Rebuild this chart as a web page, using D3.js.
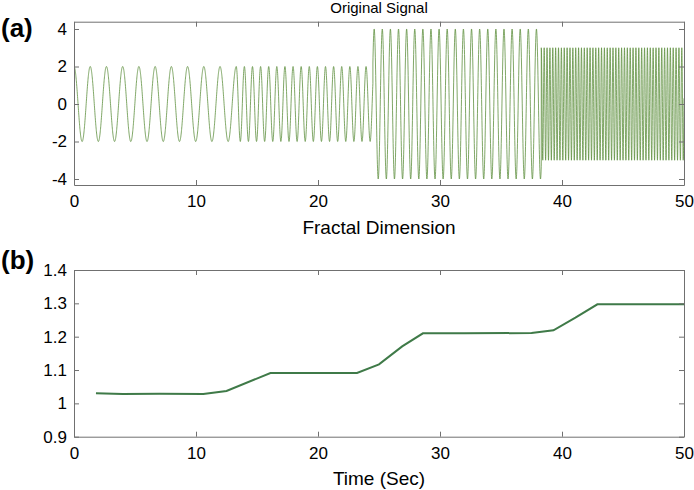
<!DOCTYPE html>
<html>
<head>
<meta charset="utf-8">
<script src="https://cdn.jsdelivr.net/npm/d3@7"></script>
<style>
  body { margin: 0; background: #fff; }
  svg { display: block; font-family: "Liberation Sans", Arial, sans-serif; }
</style>
</head>
<body>
<svg id="chart" width="694" height="490"></svg>
<script>
// ---- Data ----
// Top panel: piecewise sinusoid, one entry per segment
const segStart     = [0, 13.3, 24.5, 38.3];
const segEnd       = [13.3, 24.5, 38.3, 50];
const segAmplitude = [2, 2, 4, 3];
const segPeriod    = [1.33, 0.665, 0.665, 0.235];
const segStep      = [0.01, 0.01, 0.01, 0.004];

// Bottom panel: fractal dimension over time
const timeSec = [1.8, 4, 7, 10.6, 12.5, 16.1, 18, 23.2, 25.0, 26.9, 28.6, 32, 37.5, 39.3, 41.1, 42.9, 45, 50];
const fractalDim = [1.030, 1.028, 1.029, 1.028, 1.037, 1.091, 1.091, 1.091, 1.117, 1.171, 1.210, 1.210, 1.211, 1.219, 1.257, 1.297, 1.297, 1.297];

// Tick values
const xTicks = [0, 10, 20, 30, 40, 50];
const yTicksTop = [-4, -2, 0, 2, 4];
const yTicksBottom = [0.9, 1.0, 1.1, 1.2, 1.3, 1.4];

// ---- Layout ----
const svg = d3.select("#chart");
const left = 74, right = 684;
const top1 = 21.7, bottom1 = 185;
const top2 = 270, bottom2 = 436.7;

const axisColor = "#707070";
const signalColor = "#5f9040";
const fdColor = "#3f7a48";

const x1 = d3.scaleLinear().domain([0, 50]).range([left, right]);
const y1 = d3.scaleLinear().domain([-4.32, 4.39]).range([bottom1, top1]);
const x2 = d3.scaleLinear().domain([0, 50]).range([left, right]);
const y2 = d3.scaleLinear().domain([0.9, 1.4]).range([bottom2, top2]);

// Build the signal samples from the segment table
const signal = [];
segStart.forEach((s, i) => {
  for (let t = s; t <= segEnd[i] + 1e-9; t += segStep[i]) {
    signal.push([t, segAmplitude[i] * Math.cos(2 * Math.PI * t / segPeriod[i])]);
  }
});

const plainFmt = d => String(+d.toFixed(1));

function drawFrame(x, y, yTicks, topY, botY) {
  const tick = 5;
  const gB = svg.append("g").attr("transform", `translate(0,${botY})`)
    .call(d3.axisBottom(x).tickValues(xTicks).tickSizeInner(-tick).tickSizeOuter(0).tickPadding(10).tickFormat(plainFmt));
  const gT = svg.append("g").attr("transform", `translate(0,${topY})`)
    .call(d3.axisTop(x).tickValues(xTicks).tickSizeInner(-tick).tickSizeOuter(0).tickFormat(""));
  const gL = svg.append("g").attr("transform", `translate(${left},0)`)
    .call(d3.axisLeft(y).tickValues(yTicks).tickSizeInner(-tick).tickSizeOuter(0).tickPadding(7).tickFormat(plainFmt));
  const gR = svg.append("g").attr("transform", `translate(${right},0)`)
    .call(d3.axisRight(y).tickValues(yTicks).tickSizeInner(-tick).tickSizeOuter(0).tickFormat(""));
  [gB, gT, gL, gR].forEach(g => {
    g.select(".domain").attr("stroke", axisColor).attr("stroke-width", 1);
    g.selectAll(".tick line").attr("stroke", axisColor);
    g.selectAll("text").attr("fill", "#000").style("font-size", "17px")
      .style("font-family", "'Liberation Sans', Arial, sans-serif");
  });
}

// ---- Top panel ----
svg.append("clipPath").attr("id", "clip1").append("rect")
  .attr("x", left).attr("y", top1).attr("width", right - left).attr("height", bottom1 - top1);
svg.append("path")
  .datum(signal)
  .attr("clip-path", "url(#clip1)")
  .attr("fill", "none")
  .attr("stroke", signalColor)
  .attr("stroke-width", 0.8)
  .attr("d", d3.line().x(d => x1(d[0])).y(d => y1(d[1])));
drawFrame(x1, y1, yTicksTop, top1, bottom1);

svg.append("text").attr("x", (left + right) / 2).attr("y", 13)
  .attr("text-anchor", "middle").style("font-size", "15px").text("Original Signal");
svg.append("text").attr("x", (left + right) / 2).attr("y", 234)
  .attr("text-anchor", "middle").style("font-size", "19px").text("Fractal Dimension");
svg.append("text").attr("x", 1).attr("y", 37)
  .style("font-size", "26px").style("font-weight", "bold").text("(a)");

// ---- Bottom panel ----
svg.append("path")
  .datum(timeSec.map((t, i) => [t, fractalDim[i]]))
  .attr("fill", "none")
  .attr("stroke", fdColor)
  .attr("stroke-width", 2)
  .attr("d", d3.line().x(d => x2(d[0])).y(d => y2(d[1])));
drawFrame(x2, y2, yTicksBottom, top2, bottom2);

svg.append("text").attr("x", (left + right) / 2).attr("y", 485)
  .attr("text-anchor", "middle").style("font-size", "19px").text("Time (Sec)");
svg.append("text").attr("x", 1).attr("y", 269)
  .style("font-size", "26px").style("font-weight", "bold").text("(b)");
</script>
</body>
</html>
